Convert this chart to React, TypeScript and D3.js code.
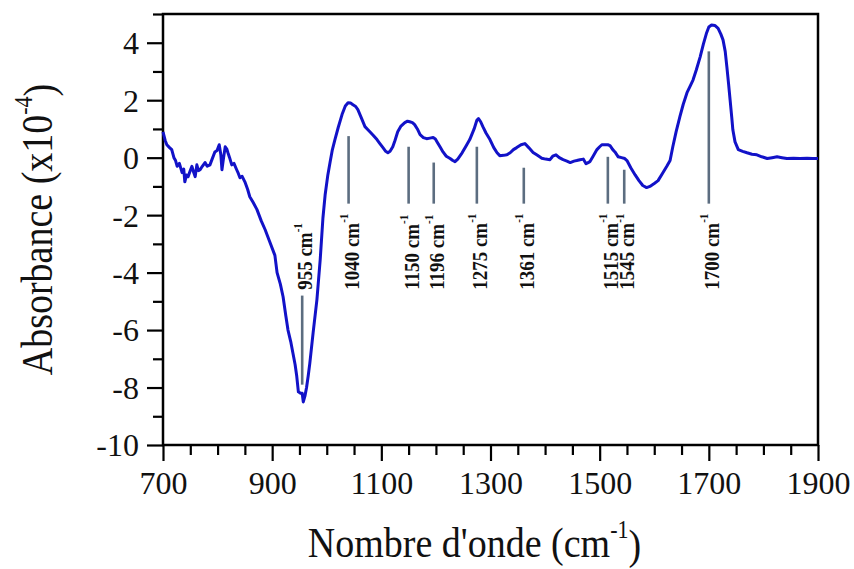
import { useRef, useEffect } from 'react';
import * as d3 from 'd3';

// Spectrum (wavenumber in cm-1, absorbance x10^-4)
const wavenumbers = [
  700, 704, 707, 712, 716, 720, 723, 726, 730, 735, 738, 740, 743, 746, 750, 753, 756, 759, 762, 765,
  768, 772, 777, 781, 786, 790, 795, 799, 803, 806, 808, 811, 814, 817, 819, 822, 826, 830, 835, 838,
  841, 845, 850, 855, 859, 865, 872, 880, 887, 895, 905, 909, 915, 920, 925, 929, 934, 938, 942, 945,
  948, 952, 955, 957, 960, 963, 966, 969, 975, 982, 988, 993, 997, 1002, 1006, 1010, 1015, 1021, 1028, 1034,
  1039, 1044, 1048, 1053, 1057, 1063, 1070, 1075, 1079, 1085, 1092, 1097, 1103, 1108, 1112, 1116, 1121, 1125, 1130, 1136,
  1143, 1148, 1152, 1157, 1161, 1166, 1171, 1177, 1183, 1189, 1195, 1199, 1203, 1208, 1213, 1219, 1226, 1231, 1235, 1240,
  1248, 1255, 1262, 1270, 1275, 1278, 1282, 1286, 1292, 1299, 1306, 1312, 1317, 1324, 1330, 1336, 1342, 1348, 1356, 1363,
  1370, 1378, 1386, 1394, 1401, 1409, 1414, 1420, 1426, 1433, 1440, 1446, 1453, 1458, 1464, 1470, 1475, 1479, 1482, 1488,
  1495, 1500, 1504, 1510, 1515, 1519, 1524, 1528, 1534, 1540, 1546, 1550, 1557, 1565, 1572, 1579, 1586, 1592, 1600, 1607,
  1615, 1623, 1629, 1634, 1640, 1647, 1653, 1660, 1666, 1671, 1677, 1684, 1690, 1696, 1700, 1705, 1711, 1717, 1722, 1726,
  1730, 1733, 1736, 1739, 1742, 1744, 1748, 1754, 1762, 1770, 1779, 1788, 1797, 1807, 1816, 1825, 1834, 1843, 1855, 1867,
  1880, 1890, 1900,
];
const absorbance = [
  0.9, 0.6, 0.45, 0.35, 0.28, 0.0, -0.1, -0.3, -0.2, -0.52, -0.4, -0.84, -0.6, -0.66, -0.45, -0.3, -0.5, -0.66, -0.25, -0.45,
  -0.42, -0.3, -0.17, -0.3, -0.25, -0.05, 0.2, 0.25, 0.45, 0.1, -0.42, 0.0, 0.38, 0.3, 0.17, 0.0, -0.25, -0.2, -0.42, -0.55,
  -0.7, -0.65, -0.84, -1.1, -1.36, -1.55, -1.8, -2.2, -2.5, -2.9, -3.4, -4.0, -4.4, -4.84, -5.5, -6.0, -6.4, -6.8, -7.2, -7.6,
  -8.15, -8.2, -8.2, -8.5, -8.3, -8.0, -7.6, -7.15, -6.1, -4.94, -3.55, -2.1, -1.3, -0.6, -0.17, 0.25, 0.63, 1.05, 1.5, 1.8,
  1.91, 1.9, 1.84, 1.78, 1.67, 1.4, 1.08, 0.98, 0.9, 0.78, 0.63, 0.5, 0.35, 0.22, 0.17, 0.22, 0.38, 0.6, 0.9, 1.1,
  1.22, 1.27, 1.25, 1.22, 1.15, 1.0, 0.8, 0.7, 0.66, 0.68, 0.7, 0.65, 0.52, 0.36, 0.2, 0.05, -0.03, -0.1, -0.14, -0.05,
  0.17, 0.4, 0.63, 1.0, 1.3, 1.36, 1.25, 1.08, 0.85, 0.63, 0.35, 0.17, 0.07, 0.08, 0.1, 0.17, 0.28, 0.35, 0.45, 0.49,
  0.35, 0.18, 0.08, -0.02, -0.05, -0.07, 0.05, 0.1, 0.0, -0.07, -0.12, -0.17, -0.12, -0.1, -0.07, -0.05, -0.21, -0.17, -0.14, 0.05,
  0.28, 0.38, 0.45, 0.45, 0.45, 0.42, 0.28, 0.2, 0.03, 0.0, -0.03, -0.1, -0.35, -0.6, -0.8, -0.97, -1.04, -1.0, -0.9, -0.8,
  -0.55, -0.3, -0.1, 0.38, 0.9, 1.43, 1.85, 2.26, 2.5, 2.7, 3.05, 3.5, 3.95, 4.35, 4.55, 4.62, 4.6, 4.5, 4.3, 4.1,
  3.7, 3.17, 2.6, 2.0, 1.4, 0.97, 0.55, 0.28, 0.22, 0.17, 0.12, 0.1, 0.03, -0.03, 0.0, 0.03, 0.0, -0.03, -0.02, -0.03,
  -0.02, -0.03, -0.03,
];

// Band assignments: marker position, marker line extent and label start
const peakPositions = [955, 1040, 1150, 1196, 1275, 1361, 1515, 1545, 1700];
const markerTop = [-4.8, 0.75, 0.38, -0.17, 0.38, -0.35, 0.03, -0.42, 3.7];
const markerBottom = [-7.9, -1.6, -1.6, -1.6, -1.6, -1.6, -1.6, -1.6, -1.6];
const labelStart = -4.6;

const xMajorTicks = [700, 900, 1100, 1300, 1500, 1700, 1900];
const xMinorTicks = [750, 800, 850, 950, 1000, 1050, 1150, 1200, 1250, 1350, 1400, 1450, 1550, 1600, 1650, 1750, 1800, 1850];
const yMajorTicks = [-10, -8, -6, -4, -2, 0, 2, 4];
const yMinorTicks = [-9, -7, -5, -3, -1, 1, 3, 5];

const WIDTH = 854;
const HEIGHT = 569;
const MARGIN = { top: 14, right: 36, bottom: 124, left: 163 };
const FONT = '"Liberation Serif", "Times New Roman", serif';

export default function App() {
  const svgRef = useRef<SVGSVGElement>(null);

  useEffect(() => {
    if (!svgRef.current) return;
    const svg = d3.select(svgRef.current);
    svg.selectAll('*').remove();

    const innerWidth = WIDTH - MARGIN.left - MARGIN.right;
    const innerHeight = HEIGHT - MARGIN.top - MARGIN.bottom;

    const x = d3.scaleLinear().domain([700, 1900]).range([0, innerWidth]);
    const y = d3.scaleLinear().domain([-10, 5]).range([innerHeight, 0]);

    const g = svg.append('g').attr('transform', `translate(${MARGIN.left},${MARGIN.top})`);

    // Minor ticks
    const xMinor = g.append('g')
      .attr('transform', `translate(0,${innerHeight})`)
      .call(d3.axisBottom(x).tickValues(xMinorTicks).tickSize(10).tickFormat(() => ''));
    const yMinor = g.append('g')
      .call(d3.axisLeft(y).tickValues(yMinorTicks).tickSize(10).tickFormat(() => ''));

    // Major ticks with labels
    const xAxis = g.append('g')
      .attr('transform', `translate(0,${innerHeight})`)
      .call(d3.axisBottom(x).tickValues(xMajorTicks).tickSize(16).tickPadding(10).tickFormat((d) => String(d)));
    const yAxis = g.append('g')
      .call(d3.axisLeft(y).tickValues(yMajorTicks).tickSize(16).tickPadding(8).tickFormat((d) => String(d)));

    [xMinor, yMinor, xAxis, yAxis].forEach((a) => {
      a.select('.domain').remove();
      a.selectAll('line').attr('stroke', '#000').attr('stroke-width', 2.2);
    });

    xAxis.selectAll('text')
      .attr('font-family', FONT)
      .attr('font-size', 32)
      .attr('fill', '#111')
      .attr('dy', '0.71em');
    yAxis.selectAll('text')
      .attr('font-family', FONT)
      .attr('font-size', 32)
      .attr('fill', '#111')
      .attr('dy', '0.34em');

    // Frame
    g.append('rect')
      .attr('x', 0)
      .attr('y', 0)
      .attr('width', innerWidth)
      .attr('height', innerHeight)
      .attr('fill', 'none')
      .attr('stroke', '#000')
      .attr('stroke-width', 2.5);

    // Marker lines
    g.selectAll('.marker')
      .data(peakPositions)
      .enter()
      .append('line')
      .attr('class', 'marker')
      .attr('x1', (d) => x(d))
      .attr('x2', (d) => x(d))
      .attr('y1', (_, i) => y(markerTop[i]))
      .attr('y2', (_, i) => y(markerBottom[i]))
      .attr('stroke', '#5c6d80')
      .attr('stroke-width', 2.6);

    // Marker labels
    const labels = g.selectAll('.marker-label')
      .data(peakPositions)
      .enter()
      .append('text')
      .attr('class', 'marker-label')
      .attr('transform', (d) => `translate(${x(d) + 3},${y(labelStart)}) rotate(-90) scale(1,1.15)`)
      .attr('dy', '0.33em')
      .attr('font-family', FONT)
      .attr('font-size', 19)
      .attr('font-weight', 'bold')
      .attr('fill', '#111');
    labels.append('tspan').text((d) => `${d} cm`);
    labels.append('tspan').attr('font-size', 11).attr('dy', '-0.85em').text('-1');

    // Spectrum
    const line = d3.line<number>()
      .x((d) => x(d))
      .y((_, i) => y(absorbance[i]));

    g.append('path')
      .datum(wavenumbers)
      .attr('fill', 'none')
      .attr('stroke', '#1212c8')
      .attr('stroke-width', 3)
      .attr('stroke-linejoin', 'round')
      .attr('d', line);

    // Axis titles
    const xTitle = svg.append('text')
      .attr('transform', `translate(${MARGIN.left + innerWidth / 2 - 16},${HEIGHT - 12}) scale(1,1.1)`)
      .attr('text-anchor', 'middle')
      .attr('font-family', FONT)
      .attr('font-size', 38)
      .attr('fill', '#111');
    xTitle.append('tspan').text("Nombre d'onde (cm");
    xTitle.append('tspan').attr('font-size', 22).attr('dy', '-0.8em').text('-1');
    xTitle.append('tspan').attr('dy', '0.5em').text(')');

    const yTitle = svg.append('text')
      .attr('transform', `translate(52,${MARGIN.top + innerHeight / 2}) rotate(-90) scale(1,1.15)`)
      .attr('text-anchor', 'middle')
      .attr('font-family', FONT)
      .attr('font-size', 38)
      .attr('fill', '#111');
    yTitle.append('tspan').text('Absorbance (x10');
    yTitle.append('tspan').attr('font-size', 22).attr('dy', '-0.8em').text('-4');
    yTitle.append('tspan').attr('dy', '0.5em').text(')');
  }, []);

  return (
    <svg
      ref={svgRef}
      width={WIDTH}
      height={HEIGHT}
      style={{ position: 'absolute', left: 0, top: 0, background: '#fff' }}
    />
  );
}
